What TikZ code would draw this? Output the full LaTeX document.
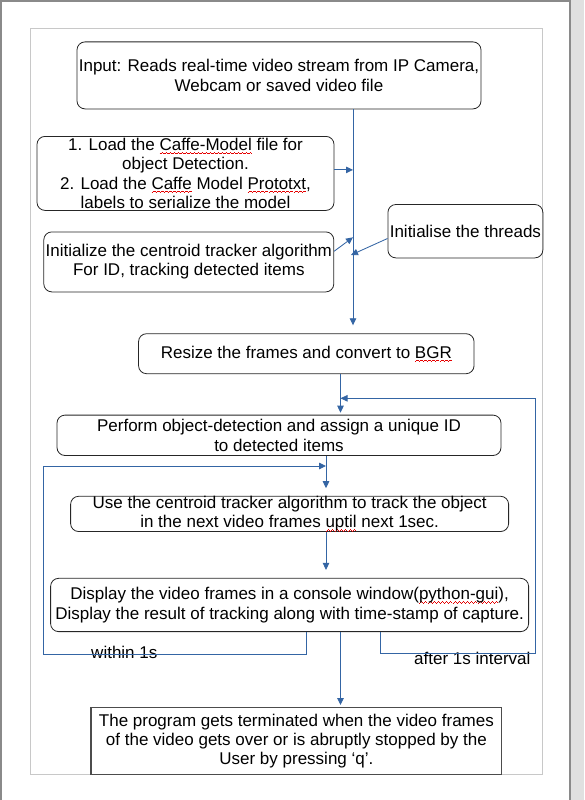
\documentclass[tikz,border=0pt]{standalone}
\usepackage{fontspec}
\setmainfont{Liberation Sans}
\usetikzlibrary{arrows.meta, positioning}

\definecolor{flowblue}{HTML}{3465A4}
\definecolor{pageline}{HTML}{8A8A8A}
\definecolor{margin}{HTML}{C8C8C8}

% red spell-check squiggle under a word
\newsavebox\spellbox
\newcommand\spellwave[1]{\sbox\spellbox{#1}%
  \rlap{\color{red!90!black}\hbox to\wd\spellbox{\xleaders\hbox{%
    \rule[-3.6pt]{1pt}{0.7pt}\rule[-2.9pt]{1pt}{0.7pt}\rule[-2.2pt]{1pt}{0.7pt}\rule[-2.9pt]{1pt}{0.7pt}}\hfill}}%
  \usebox\spellbox}

\begin{document}
\begin{tikzpicture}
   [x=1pt, y=-1pt, >={Triangle[length=7pt,width=6.5pt]},
    stepbox/.style={rectangle, rounded corners=8pt, draw=black!85, line width=0.8pt,
      align=center, inner sep=0pt, font=\fontsize{17}{19.3}\selectfont},
    endbox/.style={stepbox, sharp corners, draw=black!70, line width=1.3pt},
    flow/.style={->, draw=flowblue, line width=0.85pt},
    note/.style={inner sep=0pt, font=\fontsize{17}{19.3}\selectfont}]

  % page
  \useasboundingbox (0,0) rectangle (584,800);
  \fill[black!12] (570.5,0) rectangle (584,800);
  \draw[pageline, line width=2pt] (1,800) -- (1,1) -- (569.5,1) -- (569.5,800);
  \draw[margin, line width=1pt] (30.5,28.5) rectangle (542,774);

  \node[stepbox, minimum width=404pt, minimum height=67pt] (input) at (279,75.4)
      {Input: Reads real-time video stream from IP Camera,\\ Webcam or saved video file};
  \node[stepbox, minimum width=297pt, minimum height=74pt, below=26.7pt of input, xshift=-93.5pt] (caffe)
      {1. Load the \spellwave{Caffe-Model} file for\\ object Detection.\\
       2. Load the \spellwave{Caffe} Model \spellwave{Prototxt},\\ labels to serialize the model};
  \node[stepbox, minimum width=290pt, minimum height=60pt, below=20.7pt of caffe, xshift=3.3pt] (centroid)
      {Initialize the centroid tracker algorithm\\ For ID, tracking detected items};
  \node[stepbox, minimum width=155pt, minimum height=53.4pt, right=53.3pt of centroid, yshift=30.7pt] (threads)
      {Initialise the threads};
  \node[stepbox, minimum width=335.5pt, minimum height=40pt, below=41pt of centroid, xshift=117.5pt] (resize)
      {Resize the frames and convert to \spellwave{BGR}};
  \node[stepbox, minimum width=444pt, minimum height=40.4pt, below=40.6pt of resize, xshift=-27.3pt] (detect)
      {Perform object-detection and assign a unique ID\\ to detected items};
  \node[stepbox, minimum width=438pt, minimum height=34pt, below=40pt of detect, xshift=10.6pt] (track)
      {Use the centroid tracker algorithm to track the object\\ in the next video frames \spellwave{uptil} next 1sec.};
  \node[stepbox, minimum width=478pt, minimum height=53.3pt, below=46pt of track] (display)
      {Display the video frames in a console window(\spellwave{python-gui}),\\
       Display the result of tracking along with time-stamp of capture.};
  \node[endbox, minimum width=410.8pt, minimum height=67.3pt, below=74.7pt of display, xshift=6.8pt] (stop)
      {The program gets terminated when the video frames\\ of the video gets over or is abruptly stopped by the\\ User by pressing ‘q’.};

  \node[note] (within) at (124.3,652.1) {within 1s};
  \node[note] (after) at (472.3,658.8) {after 1s interval};

  % columns and bends
  \coordinate (trunk) at (353,0);
  \coordinate (mainc) at (340.5,0);
  \coordinate (innerc) at (326,0);
  \coordinate (joinA) at (353,237.3);
  \coordinate (joinB) at (351,255);
  \coordinate (w1) at (306,654.3);
  \coordinate (w2) at (43.8,466);
  \coordinate (a1) at (380.5,653.3);
  \coordinate (a2) at (535,398.3);

  \draw[flow, shorten >=8pt] (input.south -| trunk) -- (resize.north -| trunk);
  \draw[flow] ([yshift=3.5pt]caffe.east) -- ([yshift=3.5pt]caffe.east -| trunk);
  \draw[flow] ([yshift=10.7pt]centroid.east) -- (joinA);
  \draw[flow] ([yshift=-7.3pt]threads.west) -- (joinB);
  \draw[flow, shorten >=2pt] (resize.south -| mainc) -- (detect.north -| mainc);
  \draw[flow, shorten >=7.7pt] (detect.south -| innerc) -- (track.north -| innerc);
  \draw[flow, shorten >=8pt] (track.south -| innerc) -- (display.north -| innerc);
  \draw[flow, shorten >=1.7pt] (display.south -| mainc) -- (stop.north -| mainc);
  \draw[flow] (display.south -| w1) -- (w1) -| (w2) -- (w2 -| innerc);
  \draw[flow] (display.south -| a1) -- (a1) -| (a2) -- (a2 -| mainc);
\end{tikzpicture}
\end{document}
